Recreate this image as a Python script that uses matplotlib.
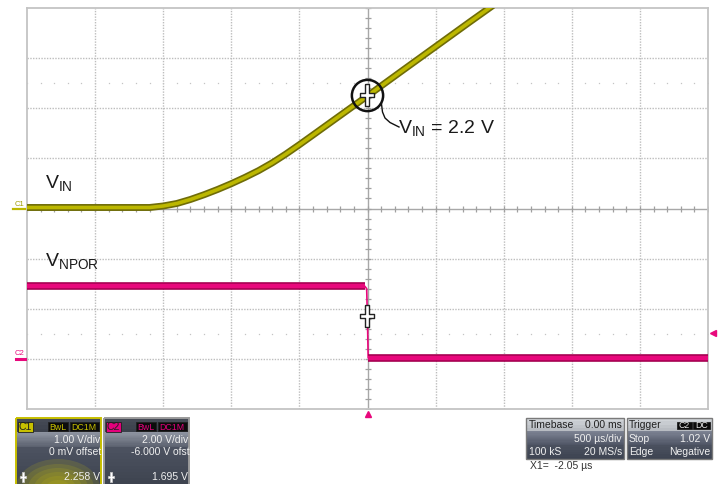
import numpy as np
import matplotlib
matplotlib.use('Agg')
import matplotlib.pyplot as plt
import matplotlib.patheffects as pe
from matplotlib.path import Path
from matplotlib.patches import Rectangle, Ellipse
from matplotlib.transforms import offset_copy

plt.rcParams['font.family'] = ['Liberation Sans', 'DejaVu Sans']
plt.rcParams['mathtext.fontset'] = 'custom'
plt.rcParams['mathtext.rm'] = 'Liberation Sans'

# scope settings
time_div = 0.5          # ms / div
c1_div = 1.0            # V / div
c1_offset = 0.0
c2_div = 2.0
c2_offset = -6.0

# C1 = V_IN  (time in ms, volts)
vin_t = [-2.5, -1.6, -1.5, -1.4, -1.3, -1.2, -1.1, -1.0, -0.9, -0.8, -0.7,
         -0.6, -0.5, -0.4, -0.3, -0.2, -0.1, 0.0, 0.25, 0.5, 0.75, 0.9]
vin_v = [0.02, 0.02, 0.05, 0.10, 0.18, 0.275, 0.38, 0.495, 0.62, 0.755, 0.91,
         1.085, 1.273, 1.467, 1.662, 1.857, 2.052, 2.247, 2.74, 3.23, 3.72, 4.01]

# C2 = V_NPOR
npor_t = [-2.5, -0.02, -0.006, 0.0, 0.005, 2.5]
npor_v = [2.90, 2.90, 2.80, 1.50, 0.04, 0.04]

cursor_t = -0.00205
cursor_c1 = 2.258
cursor_c2 = 1.695
trig_level = 1.02

YEL = '#bcb700'
YEL_DK = '#6f6c08'
PINK = '#e8087c'
PINK_DK = '#a3004f'

W, H = 722, 484
fig = plt.figure(figsize=(W / 100, H / 100), dpi=100)
fig.patch.set_facecolor('white')

x0, x1, y0, y1 = 27, 708, 8, 409
ax1 = fig.add_axes([x0 / W, 1 - y1 / H, (x1 - x0) / W, (y1 - y0) / H])
ax1.set_xlim(-5 * time_div, 5 * time_div)
ax1.set_ylim(-4 * c1_div - c1_offset, 4 * c1_div - c1_offset)
ax1.set_xticks([])
ax1.set_yticks([])
for s in ax1.spines.values():
    s.set_color('#c4c4c4')
    s.set_linewidth(1.3)

ax2 = ax1.twinx()
ax2.set_ylim(-4 * c2_div - c2_offset, 4 * c2_div - c2_offset)
ax2.set_yticks([])
for s in ax2.spines.values():
    s.set_visible(False)

# graticule
for k in range(-4, 5):
    if k != 0:
        ax1.axvline(k * time_div, color='#bdbdbd', lw=1.0, ls=(0, (1, 1)), zorder=1)
for k in range(-3, 4):
    if k != 0:
        ax1.axhline(k * c1_div, color='#bdbdbd', lw=1.0, ls=(0, (1, 1)), zorder=1)
ax1.axvline(0, color='#a8a8a8', lw=1.0, zorder=1)
ax1.axhline(0, color='#a8a8a8', lw=1.0, zorder=1)
minor_x = np.arange(-25, 26) * time_div / 5
minor_y = np.arange(-20, 21) * c1_div / 5
ax1.plot(minor_x, np.zeros_like(minor_x), ls='none', marker='|', ms=4.5,
         mew=0.9, color='#a0a0a0', zorder=1)
ax1.plot(np.zeros_like(minor_y), minor_y, ls='none', marker='_', ms=4.5,
         mew=0.9, color='#a0a0a0', zorder=1)
for yy in (2.5, -2.5):
    ax1.plot(minor_x, np.full_like(minor_x, yy * c1_div), ls='none', marker='s',
             ms=0.9, color='#c4c4c4', mew=0, zorder=1)

# traces
ax1.plot(vin_t, vin_v, color=YEL, lw=2.6, solid_joinstyle='round', zorder=3,
         path_effects=[pe.Stroke(linewidth=5, foreground=YEL_DK), pe.Normal()])
ax2.plot(npor_t, npor_v, color=PINK, lw=1.2, zorder=3)
for seg in (slice(0, 2), slice(4, 6)):
    ax2.plot(npor_t[seg], npor_v[seg], color=PINK, lw=3.2, zorder=3,
             solid_capstyle='butt',
             path_effects=[pe.Stroke(linewidth=5.5, foreground=PINK_DK), pe.Normal()])

# cursors
cross = Path([(-2.5, 11.5), (2.5, 11.5), (2.5, 2.5), (7.5, 2.5), (7.5, -2.5),
              (2.5, -2.5), (2.5, -11.5), (-2.5, -11.5), (-2.5, -2.5),
              (-7.5, -2.5), (-7.5, 2.5), (-2.5, 2.5), (-2.5, 11.5)])
ax1.plot([cursor_t], [cursor_c1], ls='none', marker=cross, ms=16.5, mfc='white',
         mec='#222222', mew=1.0, zorder=6)
ax1.plot([cursor_t], [cursor_c1], ls='none', marker='o', ms=22.5, mfc='none',
         mec='#111111', mew=1.8, zorder=6)
ax2.plot([cursor_t], [cursor_c2], ls='none', marker=cross, ms=16.5, mfc='white',
         mec='#222222', mew=1.0, zorder=6)

# trigger markers
tr_r = offset_copy(ax2.transData, fig=fig, x=5, y=0, units='dots')
ax2.plot([5 * time_div], [trig_level], ls='none', marker='<', ms=5, color=PINK,
         transform=tr_r, clip_on=False, zorder=6)
tr_b = offset_copy(ax1.transData, fig=fig, x=0, y=-5, units='dots')
ax1.plot([0], [-4 * c1_div], ls='none', marker='^', ms=5, color=PINK,
         transform=tr_b, clip_on=False, zorder=6)

# channel ground markers
ax1.plot([-14 / 681, 0], [-c1_offset, -c1_offset], color=YEL, lw=1.6,
         transform=ax1.get_yaxis_transform(), clip_on=False)
ax2.plot([-11 / 681, -2 / 681], [0, 0], color=PINK, lw=2.2,
         transform=ax2.get_yaxis_transform(), clip_on=False)

# overlay in pixel coordinates for labels and info panels
ov = fig.add_axes([0, 0, 1, 1])
ov.set_xlim(0, W)
ov.set_ylim(H, 0)
ov.axis('off')
ov.patch.set_alpha(0)

ov.text(15, 205.5, 'C1', fontsize=5.5, color='#a09c00', va='baseline')
ov.text(15, 355, 'C2', fontsize=5.5, color=PINK, va='baseline')

ov.text(45, 189, r'V$_\mathregular{IN}$', fontsize=14, color='#1a1a1a', va='baseline')
ov.text(45, 267, r'V$_\mathregular{NPOR}$', fontsize=14, color='#1a1a1a', va='baseline')
ov.text(398, 134, r'V$_\mathregular{IN}$ = 2.2 V', fontsize=14, color='#1a1a1a',
        va='baseline')
lx = [381.5, 382.5, 385, 390, 395, 399]
ly = [104, 112, 118, 122.5, 125, 127]
ov.plot(lx, ly, color='#111111', lw=1.0)


def vgrad(xa, xb, ya, yb, ca, cb, n=12):
    ca = np.array(matplotlib.colors.to_rgb(ca))
    cb = np.array(matplotlib.colors.to_rgb(cb))
    h = (yb - ya) / n
    for i in range(n):
        c = ca + (cb - ca) * i / max(n - 1, 1)
        ov.add_patch(Rectangle((xa, ya + i * h), xb - xa, h + 0.3, color=c, lw=0))


def tag(xa, xb, ya, yb, txt, fc, tc, fs=6.3):
    ov.add_patch(Rectangle((xa, ya), xb - xa, yb - ya, facecolor=fc,
                           edgecolor='#202020', lw=0.6))
    ov.text((xa + xb) / 2, (ya + yb) / 2 + 0.5, txt, fontsize=fs, color=tc,
            ha='center', va='center')


def chan_panel(xa, xb, name, col, border, vdiv, offs, val, glow):
    vgrad(xa, xb, 418, 432, '#454a55', '#3c414c', 4)
    vgrad(xa, xb, 432, 447, '#8e94a0', '#5c6270')
    vgrad(xa, xb, 447, 484, '#4c5260', '#3e4450')
    if glow:
        clip = Rectangle((xa, 418), xb - xa, 66, transform=ov.transData)
        for w, h in [(84, 58), (72, 48), (60, 40), (48, 32), (36, 24), (24, 16)]:
            e = Ellipse((xa + 42, 488), w, h, color='#c4bc10', alpha=0.17, lw=0)
            ov.add_patch(e)
            e.set_clip_path(clip)
    ov.add_patch(Rectangle((xa, 418), xb - xa, 70, facecolor='none',
                           edgecolor=border, lw=1.4))
    tag(xa + 2, xa + 17, 421.5, 431.5, name, col, '#202020', 7.5)
    tag(xa + 32, xa + 52, 422, 431, 'BwL', '#0c0c0c', col)
    tag(xa + 53.5, xa + 83, 422, 431, 'DC1M', '#0c0c0c', col)
    ov.text(xb - 1, 440, vdiv, fontsize=7.5, color='#f0f0f0', ha='right', va='center')
    t2 = ov.text(xb + 0.5, 452, offs, fontsize=7.5, color='#f0f0f0', ha='right', va='center')
    t2.set_clip_path(Rectangle((xa, 418), xb - xa, 66, transform=ov.transData))
    ov.text(xb - 1, 477.5, val, fontsize=7.5, color='#f0f0f0', ha='right', va='center')
    ov.plot([xa + 7], [477], ls='none', marker=cross, ms=6.5, mfc='white',
            mec='#cccccc', mew=0.5)


chan_panel(16, 101, 'C1', '#c8c000', '#c8c000', '1.00 V/div', '0 mV offset',
           '%.3f V' % cursor_c1, True)
chan_panel(104, 189, 'C2', '#e4007c', '#9a9a9a', '2.00 V/div', '-6.000 V ofst',
           '%.3f V' % cursor_c2, False)

# timebase / trigger panels
for xa, xb in ((526, 624), (627, 712)):
    vgrad(xa, xb, 418, 431, '#d0d4d8', '#b8bcc2', 4)
    vgrad(xa, xb, 431, 445, '#7c8292', '#505666')
    vgrad(xa, xb, 445, 459, '#4a505e', '#3e4452', 6)
    ov.add_patch(Rectangle((xa, 418), xb - xa, 41, facecolor='none',
                           edgecolor='#7a7a7a', lw=1.0))

ov.text(529, 425, 'Timebase', fontsize=7.5, color='#202020', va='center')
ov.text(622, 425, '0.00 ms', fontsize=7.5, color='#202020', va='center', ha='right')
ov.text(622, 439, '500 \u00b5s/div', fontsize=7.5, color='#f0f0f0', va='center', ha='right')
ov.text(529, 452, '100 kS', fontsize=7.5, color='#f0f0f0', va='center')
ov.text(622, 452, '20 MS/s', fontsize=7.5, color='#f0f0f0', va='center', ha='right')

ov.text(629, 425, 'Trigger', fontsize=7.5, color='#202020', va='center')
tag(677, 692, 421.5, 429, 'C2', '#0c0c0c', '#e8e8e8', 6.3)
tag(693, 710, 421.5, 429, 'DC', '#0c0c0c', '#e8e8e8', 6.3)
ov.text(629, 439, 'Stop', fontsize=7.5, color='#f0f0f0', va='center')
ov.text(710, 439, '%.2f V' % trig_level, fontsize=7.5, color='#f0f0f0', va='center', ha='right')
ov.text(629, 452, 'Edge', fontsize=7.5, color='#f0f0f0', va='center')
ov.text(710, 452, 'Negative', fontsize=7.5, color='#f0f0f0', va='center', ha='right')

ov.text(530, 466, 'X1=  %.2f \u00b5s' % (cursor_t * 1000), fontsize=7.5,
        color='#333333', va='center')

fig.savefig('out.png', dpi=100)
